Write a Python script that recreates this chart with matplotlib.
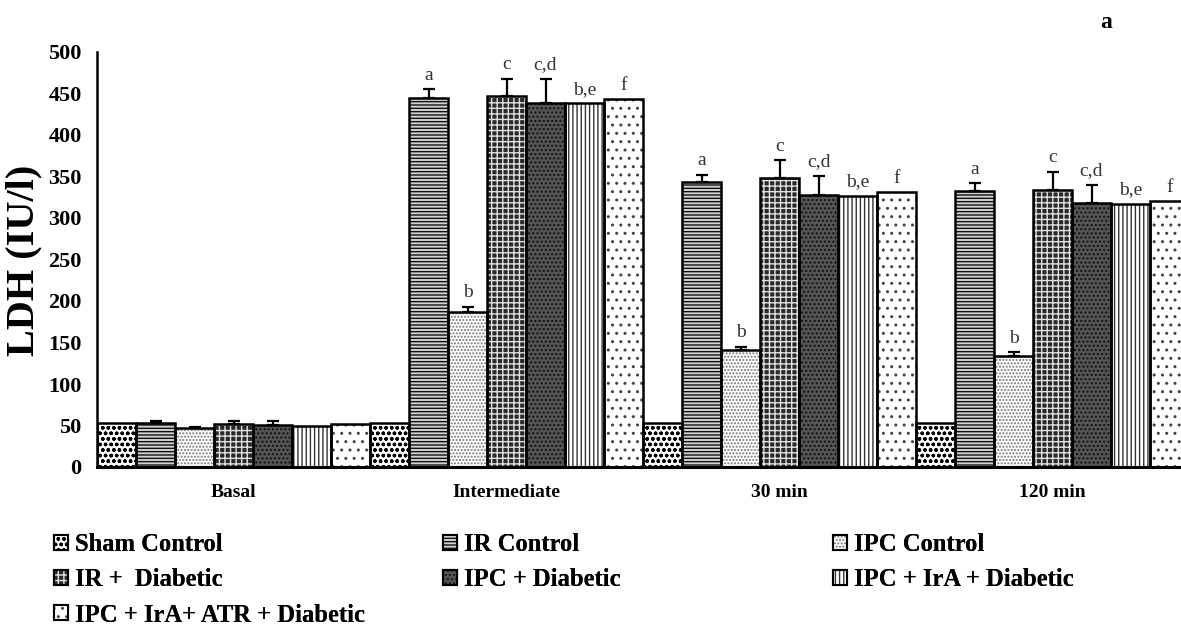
import matplotlib
matplotlib.use("Agg")
import matplotlib.pyplot as plt
from matplotlib.patches import Patch
import numpy as np

plt.rcParams['font.family'] = ['Liberation Serif', 'DejaVu Serif']

groups = ['Basal', 'Intermediate', '30 min', '120 min']
series_names = ['Sham Control', 'IR Control', 'IPC Control', 'IR +  Diabetic',
                'IPC + Diabetic', 'IPC + IrA + Diabetic', 'IPC + IrA+ ATR + Diabetic']

sham = [53, 53, 53, 53]
ir_control = [53, 444, 343, 333]
ipc_control = [47, 187, 141, 134]
ir_diabetic = [52, 447, 348, 334]
ipc_diabetic = [51, 438, 328, 318]
ipc_ira_diabetic = [50, 438, 327, 317]
ipc_ira_atr_diabetic = [52, 443, 331, 320]

sham_err = [0, 0, 0, 0]
ir_control_err = [2, 11, 9, 9]
ipc_control_err = [1.5, 6, 4, 4.5]
ir_diabetic_err = [4, 21, 22, 22]
ipc_diabetic_err = [5, 30, 23, 22]
ipc_ira_diabetic_err = [0, 0, 0, 0]
ipc_ira_atr_diabetic_err = [0, 0, 0, 0]

sig_labels = [
    ['', '', '', ''],
    ['', 'a', 'a', 'a'],
    ['', 'b', 'b', 'b'],
    ['', 'c', 'c', 'c'],
    ['', 'c,d', 'c,d', 'c,d'],
    ['', 'b,e', 'b,e', 'b,e'],
    ['', 'f', 'f', 'f'],
]

values = [sham, ir_control, ipc_control, ir_diabetic, ipc_diabetic,
          ipc_ira_diabetic, ipc_ira_atr_diabetic]
errors = [sham_err, ir_control_err, ipc_control_err, ir_diabetic_err,
          ipc_diabetic_err, ipc_ira_diabetic_err, ipc_ira_atr_diabetic_err]

# style: (facecolor, hatch, hatchcolor)
styles = [
    ('white', 'ooo', 'black'),
    ('#d0d0d0', '-----', '#111111'),
    ('white', '.....', '#777777'),
    ('#2a2a2a', '+++', '#e0e0e0'),
    ('#555555', '....', '#111111'),
    ('white', '||||', '#333333'),
    ('white', '..', '#444444'),
]

W, H = 1181, 626
fig = plt.figure(figsize=(W / 100, H / 100), dpi=100)
x0, x1 = 97, 1189
y0, y1 = 467, 52
ax = fig.add_axes([x0 / W, 1 - y0 / H, (x1 - x0) / W, (y0 - y1) / H])

n = len(values)
bw = 1.0 / n
xg = np.arange(len(groups))
handles = []
plt.rcParams['hatch.linewidth'] = 1.0
for i, (vals, errs, st) in enumerate(zip(values, errors, styles)):
    fc, hatch, hc = st
    xs = xg - 0.5 + (i + 0.5) * bw
    ax.bar(xs, vals, width=bw, color=fc, edgecolor=hc, hatch=hatch, linewidth=0, zorder=2)
    ax.bar(xs, vals, width=bw, facecolor='none', edgecolor='black', linewidth=1.8, zorder=3)
    errs = np.array(errs, dtype=float)
    mask = errs > 0
    if mask.any():
        ax.errorbar(xs[mask], np.array(vals)[mask], yerr=[np.zeros(mask.sum()), errs[mask]],
                    fmt='none', ecolor='black', elinewidth=1.6, capsize=4, capthick=1.6, zorder=4)
    for j in range(len(groups)):
        lab = sig_labels[i][j]
        if lab:
            top = vals[j] + errs[j]
            ax.annotate(lab, (xs[j], top), xytext=(0, 10), textcoords='offset points',
                        ha='center', va='center', fontsize=14, color='#333333')
    handles.append((Patch(facecolor=fc, edgecolor=hc, hatch=hatch, linewidth=0),
                    Patch(facecolor='none', edgecolor='black', linewidth=1.5)))

ax.set_xlim(-0.5, len(groups) - 0.5)
ax.set_ylim(0, 500)
ax.set_yticks(np.arange(0, 501, 50))
ax.set_xticks(xg)
ax.set_xticklabels(groups, fontsize=14, fontweight='bold')
ax.tick_params(axis='both', length=0)
ax.tick_params(axis='y', pad=11, labelsize=16)
ax.tick_params(axis='x', pad=12)
for lab in ax.get_yticklabels():
    lab.set_fontweight('bold')
for s in ['top', 'right']:
    ax.spines[s].set_visible(False)
ax.spines['left'].set_linewidth(1.8)
ax.spines['bottom'].set_linewidth(2.2)

fig.text(24 / W, 1 - 260 / H, 'LDH (IU/l)', rotation=90, ha='center', va='center',
         fontsize=29, fontweight='bold')
fig.text(1106 / W, 1 - 22 / H, 'a', ha='center', va='center', fontsize=17, fontweight='bold')

columns = [[0, 3, 6], [1, 4], [2, 5]]
col_x = [54, 443, 833]
for cx, idxs in zip(col_x, columns):
    leg = fig.legend([handles[k] for k in idxs], [series_names[k] for k in idxs],
                     loc='upper left', bbox_to_anchor=(cx / W, 1 - 533 / H),
                     frameon=False, prop={'size': 17.7, 'weight': 'bold'},
                     handlelength=0.55, handleheight=0.55, handletextpad=0.3,
                     labelspacing=0.5, borderpad=0, borderaxespad=0)
    fig.add_artist(leg)

fig.savefig('out.png', dpi=100)
